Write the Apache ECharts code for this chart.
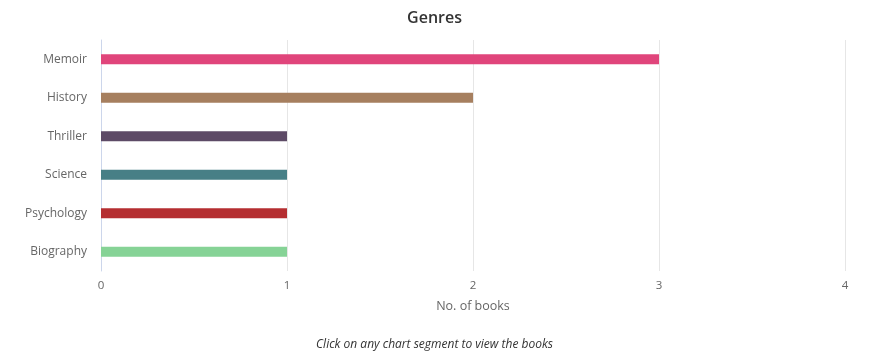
<!DOCTYPE html>
<html>
<head>
<meta charset="utf-8">
<script src="https://cdn.jsdelivr.net/npm/echarts@6/dist/echarts.min.js"></script>
<style>
  html, body { margin: 0; padding: 0; background: #fff; }
  #genres_chart { width: 869px; height: 362px; }
</style>
</head>
<body>
<div id="genres_chart"></div>
<script>
var genres = ['Memoir', 'History', 'Thriller', 'Science', 'Psychology', 'Biography'];
var bookCounts = [3, 2, 1, 1, 1, 1];
var genreColors = ['#e0457b', '#a67f5f', '#5d4a66', '#477f86', '#b52e31', '#86d396'];
var xTicks = [0, 1, 2, 3, 4];

var font = '"Open Sans", "Noto Sans", sans-serif';

// one data item per genre, each with its own colour
var barData = [];
for (var i = 0; i < genres.length; i++) {
    barData.push({ value: bookCounts[i], itemStyle: { color: genreColors[i] } });
}

var option = {
    animation: false,
    title: [{
        text: 'Genres',
        left: 'center',
        top: 5,
        textStyle: { fontFamily: font, fontSize: 16, fontWeight: 600, color: '#333' }
    }, {
        text: 'Click on any chart segment to view the books',
        left: 'center',
        top: 334,
        textStyle: { fontFamily: font, fontSize: 12, fontStyle: 'italic', fontWeight: 'normal', color: '#333' }
    }],
    grid: { left: 101, right: 24, top: 40, bottom: 91, containLabel: false },
    xAxis: {
        type: 'value',
        min: xTicks[0],
        max: xTicks[xTicks.length - 1],
        interval: 1,
        name: 'No. of books',
        nameLocation: 'middle',
        nameGap: 29,
        nameTextStyle: { fontFamily: font, fontSize: 12.5, color: '#666' },
        axisLine: { show: false },
        axisTick: { show: false },
        axisLabel: { fontFamily: font, fontSize: 11.5, color: '#666', margin: 9 },
        splitLine: { show: true, lineStyle: { color: '#e6e6e6', width: 1 } }
    },
    yAxis: {
        type: 'category',
        data: genres,
        inverse: true,
        axisLine: { show: true, lineStyle: { color: '#ccd6eb', width: 1 } },
        axisTick: { show: false },
        axisLabel: { fontFamily: font, fontSize: 12, color: '#666', margin: 14 },
        splitLine: { show: false }
    },
    series: [{
        type: 'bar',
        data: barData,
        barWidth: 10,
        cursor: 'pointer'
    }]
};

echarts.init(document.getElementById('genres_chart')).setOption(option);
</script>
</body>
</html>
